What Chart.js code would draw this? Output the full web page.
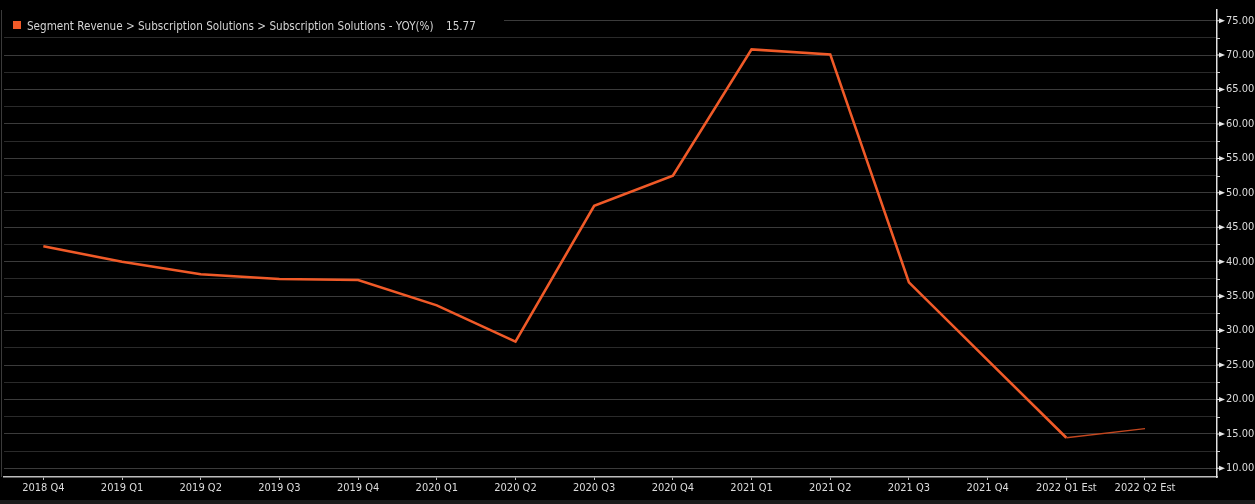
<!DOCTYPE html>
<html>
<head>
<meta charset="utf-8">
<script src="https://cdn.jsdelivr.net/npm/chart.js@4/dist/chart.umd.min.js"></script>
<style>
  body { margin: 0; background: #1b1b1b; width: 1255px; height: 504px; overflow: hidden; }
  canvas { display: block; }
</style>
</head>
<body>
<canvas id="grafico" width="1255" height="500"></canvas>
<script>
// quarters on the x axis
const trimestres = ['2018 Q4', '2019 Q1', '2019 Q2', '2019 Q3', '2019 Q4', '2020 Q1', '2020 Q2',
  '2020 Q3', '2020 Q4', '2021 Q1', '2021 Q2', '2021 Q3', '2021 Q4', '2022 Q1 Est', '2022 Q2 Est'];
// YoY growth in %
const yoy = [42.26, 40.0, 38.17, 37.5, 37.35, 33.66, 28.4, 48.12, 52.5, 70.83, 70.1, 37.0, 25.7, 14.44, 15.77];
// y axis ticks (minor every 2.5, label only on the 5s)
const yTicks = [10, 12.5, 15, 17.5, 20, 22.5, 25, 27.5, 30, 32.5, 35, 37.5, 40, 42.5, 45, 47.5,
  50, 52.5, 55, 57.5, 60, 62.5, 65, 67.5, 70, 72.5, 75];
const legenda = 'Segment Revenue > Subscription Solutions > Subscription Solutions - YOY(%)';
const ultimo = yoy[yoy.length - 1];

const fonte = "'DejaVu Sans Condensed', 'DejaVu Sans', sans-serif";
const laranja = '#f05a28';

const enfeites = {
  id: 'enfeites',
  beforeDraw(chart) {
    const c = chart.ctx;
    c.save();
    c.fillStyle = '#000';
    c.fillRect(0, 0, chart.width, chart.height);
    c.restore();
  },
  afterDraw(chart) {
    const c = chart.ctx;
    const area = chart.chartArea;
    const y = chart.scales.y;
    c.save();
    // left frame line
    c.strokeStyle = '#3a3a3a';
    c.lineWidth = 1;
    c.beginPath();
    c.moveTo(1.5, area.top);
    c.lineTo(1.5, area.bottom);
    c.stroke();
    // ticks on the right axis
    c.fillStyle = '#e6e6e6';
    c.strokeStyle = '#cfcfcf';
    yTicks.forEach(v => {
      const py = y.getPixelForValue(v);
      if (v % 5 === 0) {
        c.beginPath();
        c.moveTo(area.right, py - 0.5);
        c.lineTo(area.right + 2, py - 0.5);
        c.lineTo(area.right + 2, py + 0.5);
        c.lineTo(area.right, py + 0.5);
        c.fill();
        c.beginPath();
        c.moveTo(area.right + 2, py - 2.5);
        c.lineTo(area.right + 8, py);
        c.lineTo(area.right + 2, py + 2.5);
        c.closePath();
        c.fill();
      } else {
        c.beginPath();
        c.moveTo(area.right, Math.round(py) + 0.5);
        c.lineTo(area.right + 3, Math.round(py) + 0.5);
        c.stroke();
      }
    });
    // legend box
    c.fillStyle = '#000';
    c.fillRect(4, 13, 500, 19);
    c.fillStyle = laranja;
    c.fillRect(13, 21, 8, 8);
    c.font = '11.6px ' + fonte;
    c.fillStyle = '#d4d4d4';
    c.textBaseline = 'alphabetic';
    c.fillText(legenda, 27, 30);
    c.fillText(ultimo.toFixed(2), 446, 30);
    c.restore();
  }
};

new Chart(document.getElementById('grafico'), {
  type: 'line',
  data: {
    datasets: [{
      data: yoy.map((v, i) => ({ x: i, y: v })),
      borderColor: laranja,
      borderWidth: 2.6,
      pointRadius: 0,
      tension: 0,
      segment: {
        borderWidth: ctx => trimestres[ctx.p0DataIndex].includes('Est') ? 1.3 : 2.6,
        borderColor: ctx => trimestres[ctx.p0DataIndex].includes('Est') ? '#c4471f' : laranja
      }
    }]
  },
  options: {
    responsive: false,
    animation: false,
    layout: { padding: { left: 4, top: 10, right: 0, bottom: 0 } },
    plugins: { legend: { display: false }, tooltip: { enabled: false } },
    scales: {
      x: {
        type: 'linear',
        min: -0.5,
        max: 14.915,
        afterBuildTicks: axis => { axis.ticks = trimestres.map((t, i) => ({ value: i })); },
        afterFit: axis => { axis.height = 23; },
        grid: { display: true, drawOnChartArea: false, drawTicks: true, tickLength: 3, color: '#bdbdbd' },
        border: { color: '#bdbdbd', width: 1.5 },
        ticks: {
          color: '#dcdcdc',
          font: { family: fonte, size: 11 },
          padding: 2,
          maxRotation: 0,
          autoSkip: false,
          callback: v => trimestres[v]
        }
      },
      y: {
        position: 'right',
        min: 8.74,
        max: 76.55,
        afterBuildTicks: axis => { axis.ticks = yTicks.map(v => ({ value: v })); },
        afterFit: axis => { axis.width = 38; axis.paddingTop = 0; axis.paddingBottom = 0; },
        grid: {
          drawTicks: false,
          color: ctx => (ctx.tick && ctx.tick.value % 5 === 0) ? '#3b3b3b' : '#2a2a2a'
        },
        border: { color: '#e0e0e0', width: 1.5 },
        ticks: {
          color: '#dcdcdc',
          font: { family: fonte, size: 11 },
          padding: 9,
          autoSkip: false,
          callback: v => v % 5 === 0 ? v.toFixed(2) : ''
        }
      }
    }
  },
  plugins: [enfeites]
});
</script>
</body>
</html>
